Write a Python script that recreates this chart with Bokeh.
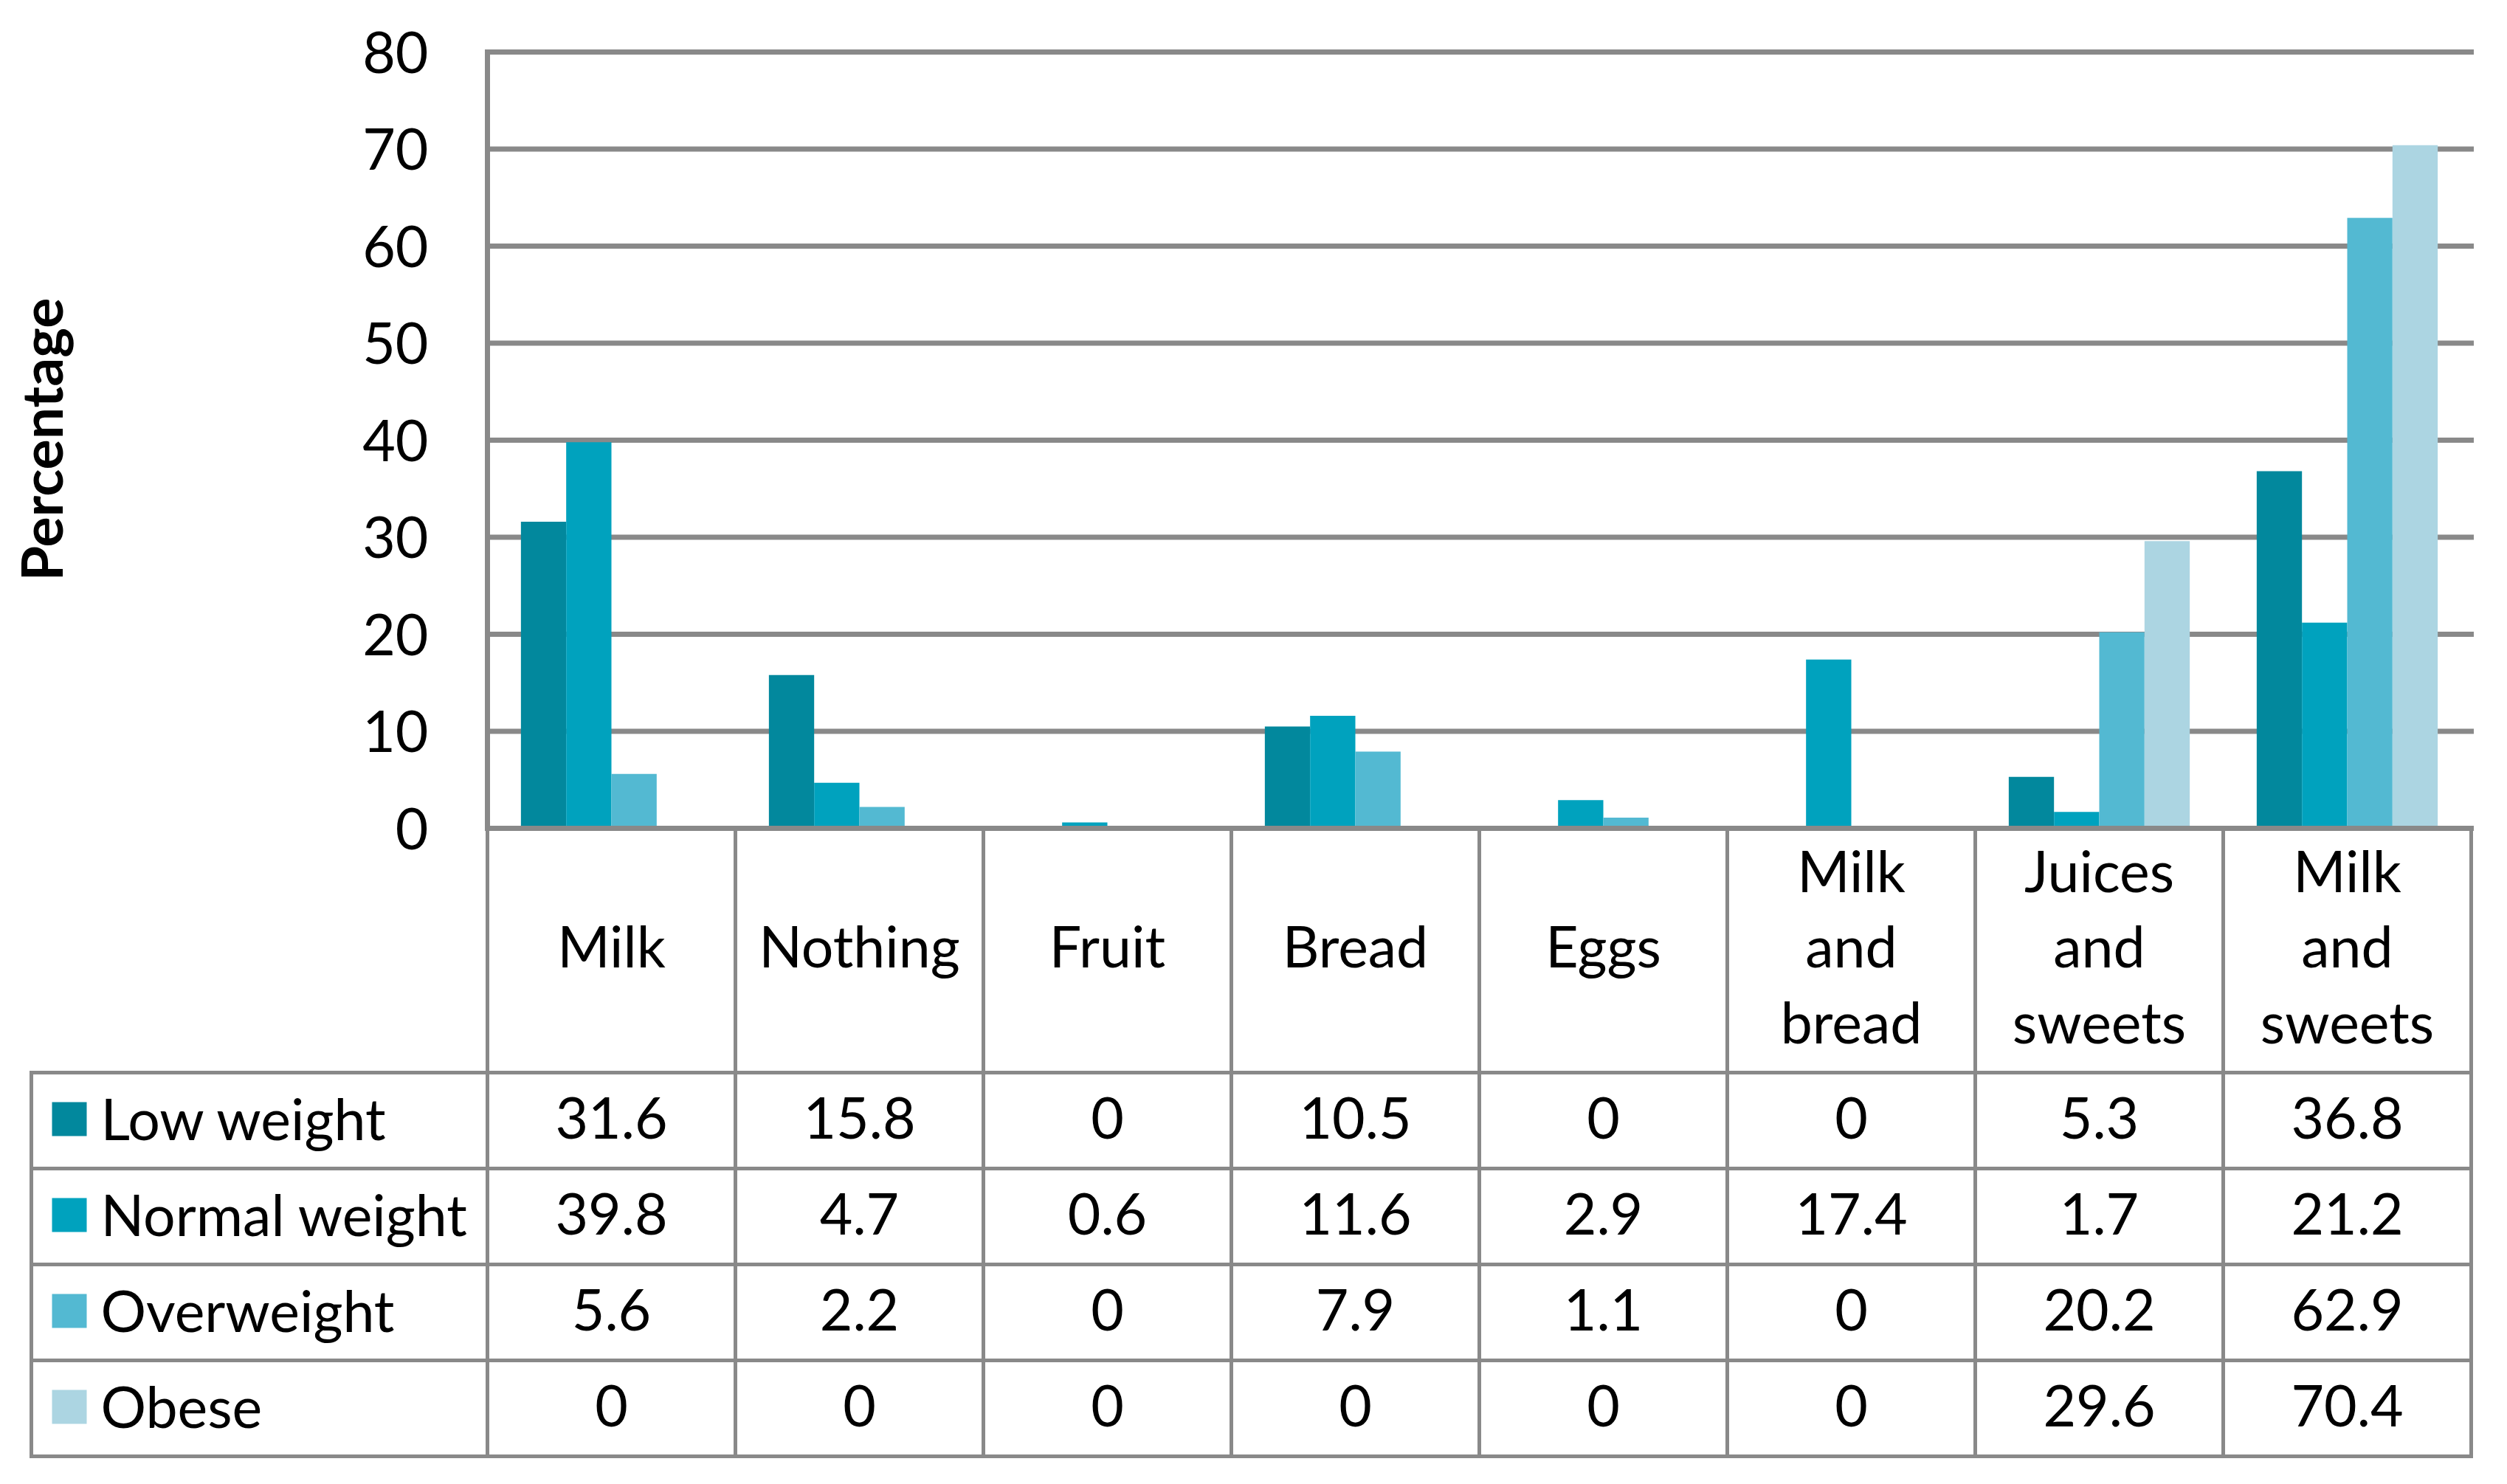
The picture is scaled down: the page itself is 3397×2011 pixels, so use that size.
import numpy as np
from bokeh.plotting import figure
from bokeh.models import Range1d
from bokeh.embed import file_html
from bokeh.resources import INLINE
from bokeh.core.properties import value

# ---------------- data ----------------
categories = ["Milk", "Nothing", "Fruit", "Bread", "Eggs",
              "Milk and bread", "Juices and sweets", "Milk and sweets"]
series = ["Low weight", "Normal weight", "Overweight", "Obese"]
low_weight = [31.6, 15.8, 0, 10.5, 0, 0, 5.3, 36.8]
normal_weight = [39.8, 4.7, 0.6, 11.6, 2.9, 17.4, 1.7, 21.2]
overweight = [5.6, 2.2, 0, 7.9, 1.1, 0, 20.2, 62.9]
obese = [0, 0, 0, 0, 0, 0, 29.6, 70.4]
y_ticks = [0, 10, 20, 30, 40, 50, 60, 70, 80]
y_title = "Percentage"

# ---------------- style / layout (pixels) ----------------
colors = ["#02889D", "#00A2BE", "#53B9D2", "#ACD5E2"]
GRAY = "#898989"
FONT = "Lato"
FS = "77px"

OFF = 0             # canvas offset on the page
W, H = 3381, 1995
AX_X = 660          # x where first category column starts
CAT_W = 336         # width of a category column
Y0 = 1122           # y of value 0
Y80 = 70            # y of value 80
HEADER_B = 1453
ROW_H = 130
LEG_L = 42
BAR_W = 0.1825
LINE_SP = 102.5
TICK_LABEL_X = 580
TITLE_X = 54
TITLE_Y = 595

ppu = (Y0 - Y80) / 80.0
n = len(categories)
all_series = [low_weight, normal_weight, overweight, obese]

p = figure(width=W, height=H, output_backend="svg", toolbar_location=None,
           x_axis_type=None, y_axis_type=None,
           x_range=Range1d((OFF - AX_X) / CAT_W, (OFF + W - AX_X) / CAT_W),
           y_range=Range1d((Y0 - (OFF + H)) / ppu, (Y0 - OFF) / ppu),
           min_border_left=0, min_border_right=0,
           min_border_top=0, min_border_bottom=0)
p.extra_x_ranges = {"px": Range1d(OFF, OFF + W)}
p.extra_y_ranges = {"py": Range1d(OFF + H, OFF)}
p.outline_line_color = None
p.background_fill_color = "white"
p.border_fill_color = "white"

# gridlines (behind bars)
p.segment(x0=[0] * len(y_ticks), x1=[n] * len(y_ticks), y0=y_ticks, y1=y_ticks,
          line_color=GRAY, line_width=7, line_cap="square")

# bars
x_centers = np.arange(n) + 0.5
for j, (name, vals) in enumerate(zip(series, all_series)):
    p.vbar(x=x_centers + (j - 1.5) * BAR_W, top=vals, bottom=0, width=BAR_W,
           fill_color=colors[j], line_color=None)

# zero line and value axis line on top of bars
p.segment(x0=[0], x1=[n], y0=[0], y1=[0], line_color=GRAY, line_width=7,
          line_cap="square")
p.segment(x0=[0], x1=[0], y0=[0], y1=[y_ticks[-1]], line_color=GRAY,
          line_width=7, line_cap="square")

# tick labels
p.text(x=[TICK_LABEL_X] * len(y_ticks), y=y_ticks, text=[str(v) for v in y_ticks],
       x_range_name="px", text_font=value(FONT), text_font_size=FS,
       text_align="right", text_baseline="middle", text_color="black")

# axis title
p.text(x=[TITLE_X], y=[TITLE_Y], text=[y_title], angle=np.pi / 2,
       x_range_name="px", y_range_name="py", text_font=value(FONT),
       text_font_size=FS, text_font_style="bold", text_align="center",
       text_baseline="middle", text_color="black")

# ---------------- data table ----------------
table_bottom = HEADER_B + ROW_H * len(series)
right_edge = AX_X + CAT_W * n

vx = [AX_X + CAT_W * k for k in range(n + 1)]
p.segment(x0=vx, y0=[Y0] * len(vx), x1=vx, y1=[table_bottom] * len(vx),
          x_range_name="px", y_range_name="py", line_color=GRAY, line_width=5)
p.segment(x0=[LEG_L], y0=[HEADER_B], x1=[LEG_L], y1=[table_bottom],
          x_range_name="px", y_range_name="py", line_color=GRAY, line_width=5,
          line_cap="square")
hy = [HEADER_B + ROW_H * r for r in range(len(series) + 1)]
p.segment(x0=[LEG_L] * len(hy), y0=hy, x1=[right_edge] * len(hy), y1=hy,
          x_range_name="px", y_range_name="py", line_color=GRAY, line_width=5,
          line_cap="square")

# header labels (one word per line)
hx, hyy, htxt = [], [], []
mid_c = (Y0 + HEADER_B) / 2 - 7
for i, cat in enumerate(categories):
    words = cat.split(" ")
    m = len(words)
    for k, w in enumerate(words):
        hx.append(AX_X + CAT_W * (i + 0.5))
        hyy.append(mid_c + (k - (m - 1) / 2) * LINE_SP)
        htxt.append(w)
p.text(x=hx, y=hyy, text=htxt, x_range_name="px", y_range_name="py",
       text_font=value(FONT), text_font_size=FS,
       text_align="center", text_baseline="middle", text_color="black")

# rows: legend key, series name, values
for r, (name, vals) in enumerate(zip(series, all_series)):
    top = HEADER_B + ROW_H * r
    cy = top + ROW_H / 2 - 4
    p.rect(x=[93.5], y=[top + 63], width=47, height=46,
           x_range_name="px", y_range_name="py",
           fill_color=colors[r], line_color=None)
    p.text(x=[136], y=[cy], text=[name], x_range_name="px",
           y_range_name="py", text_font=value(FONT), text_font_size=FS,
           text_align="left", text_baseline="middle", text_color="black")
    p.text(x=[AX_X + CAT_W * (i + 0.5) for i in range(n)], y=[cy] * n,
           text=[f"{v:g}" for v in vals], x_range_name="px", y_range_name="py",
           text_font=value(FONT), text_font_size=FS, text_align="center",
           text_baseline="middle", text_color="black")

open("out.html", "w").write(file_html(p, INLINE))
